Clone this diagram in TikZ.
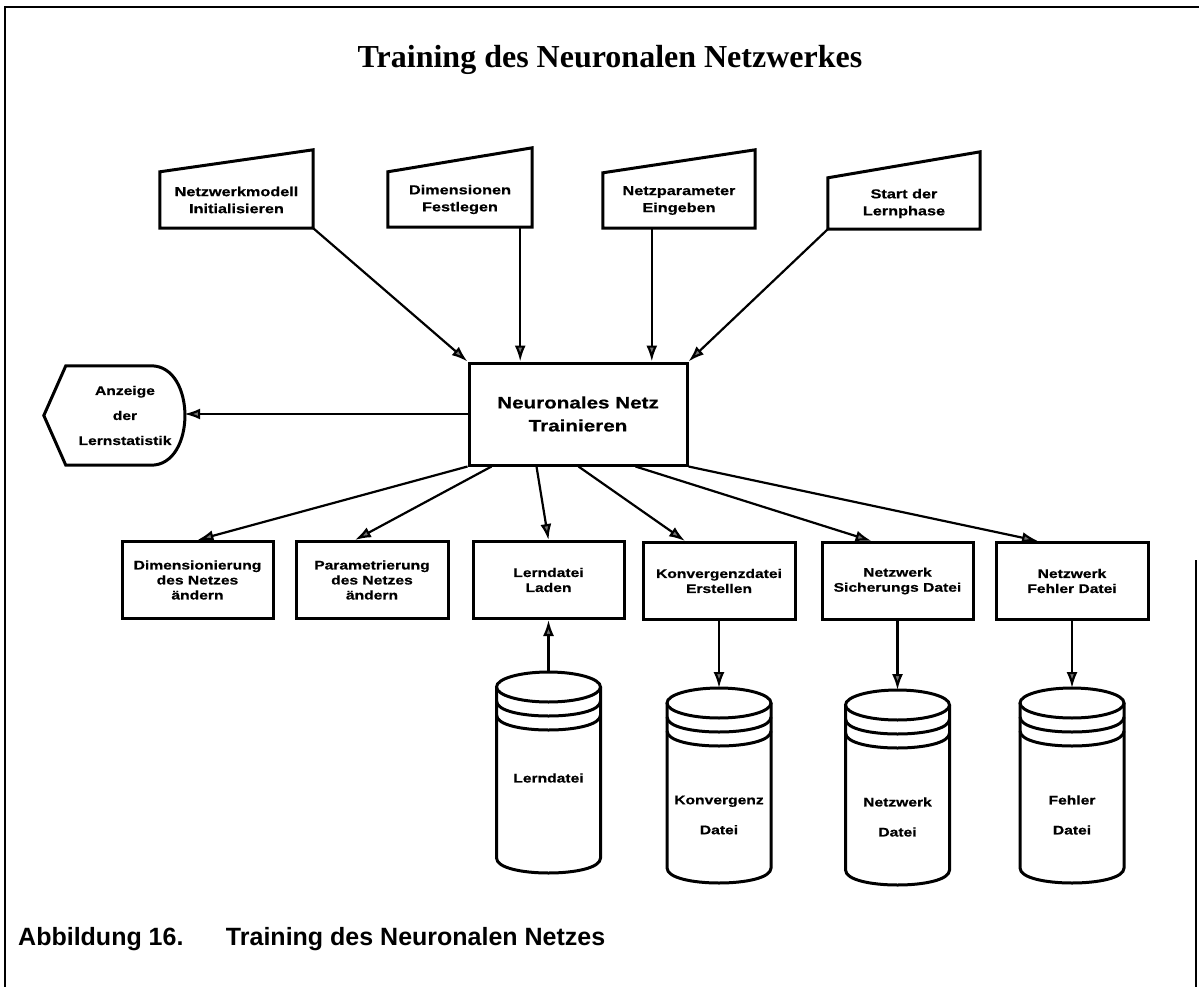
\documentclass[tikz,border=0pt]{standalone}
\usepackage{fontspec}
\setmainfont{Liberation Sans}
\newfontfamily\titlefont{Liberation Serif}
\newfontfamily\boxfont{Liberation Sans}[FakeStretch=1.25,FakeBold=0.6]
\usetikzlibrary{arrows.meta}
\tikzset{
  boxline/.style={line width=3pt, line join=miter},
  arr/.style={line width=2.2pt, -{Latex[length=16pt,width=11pt,fill=black!55]}},
  proc/.style={draw, boxline, align=center, inner sep=0pt,
    font=\boxfont\bfseries\fontsize{12.5}{15}\selectfont},
  inp/.style={align=center, inner sep=0pt,
    font=\boxfont\bfseries\fontsize{13}{17}\selectfont},
  cyltext/.style={align=center, inner sep=0pt,
    font=\boxfont\bfseries\fontsize{12.5}{30}\selectfont},
}
\begin{document}
\begin{tikzpicture}[x=1pt,y=-1pt]
\useasboundingbox (0,0) rectangle (1199,987);
% frame
\draw[line width=1.8pt] (5,987) -- (5,7) -- (1199,7);
\draw[line width=1.8pt] (1196,560) -- (1196,987);
% title and caption
\node[font=\titlefont\bfseries\fontsize{32}{38}\selectfont, anchor=base] (title) at (610,68) {Training des Neuronalen Netzwerkes};
\node[font=\bfseries\fontsize{25}{30}\selectfont, anchor=base west, inner sep=0pt] (cap) at (18,945) {Abbildung 16.\hspace{1.7em}Training des Neuronalen Netzes};
% input trapezoids
\node[inp, minimum width=153pt, minimum height=56pt] (t1) at (236.5,200) {Netzwerkmodell\\Initialisieren};
\draw[boxline] (t1.south west) -- (t1.south east) -- ([yshift=22pt]t1.north east) -- (t1.north west) -- cycle;
\node[inp, minimum width=144pt, minimum height=55pt] (t2) at (460,199.5) {Dimensionen\\Festlegen};
\draw[boxline] (t2.south west) -- (t2.south east) -- ([yshift=24pt]t2.north east) -- (t2.north west) -- cycle;
\node[inp, minimum width=152pt, minimum height=55pt] (t3) at (679,200.5) {Netzparameter\\Eingeben};
\draw[boxline] (t3.south west) -- (t3.south east) -- ([yshift=23pt]t3.north east) -- (t3.north west) -- cycle;
\node[inp, minimum width=152pt, minimum height=51pt] (t4) at (904,203.5) {Start der\\Lernphase};
\draw[boxline] (t4.south west) -- (t4.south east) -- ([yshift=26pt]t4.north east) -- (t4.north west) -- cycle;
% central process
\node[proc, minimum width=218pt, minimum height=102pt,
  font=\boxfont\bfseries\fontsize{16.5}{23}\selectfont] (nn) at (578,414) {Neuronales Netz\\Trainieren};
% display
\node[inp, minimum width=118pt, minimum height=99pt, font=\boxfont\bfseries\fontsize{12.5}{25}\selectfont] (disp) at (125,415.5) {Anzeige\\der\\Lernstatistik};
\draw[boxline] (disp.north west) -- ([xshift=-33pt]disp.north east)
  .. controls ([xshift=12pt]disp.north east) and ([xshift=12pt]disp.south east) .. ([xshift=-33pt]disp.south east)
  -- (disp.south west) -- ([xshift=-22pt]disp.west) -- cycle;
% bottom process boxes
\node[proc, minimum width=151pt, minimum height=77pt] (b1) at (197.5,580) {Dimensionierung\\des Netzes\\ändern};
\node[proc, minimum width=152pt, minimum height=77pt] (b2) at (372,580) {Parametrierung\\des Netzes\\ändern};
\node[proc, minimum width=151pt, minimum height=77pt] (b3) at (548.5,580) {Lerndatei\\Laden};
\node[proc, minimum width=152pt, minimum height=77pt] (b4) at (719,581) {Konvergenzdatei\\Erstellen};
\node[proc, minimum width=151pt, minimum height=77pt] (b5) at (897.5,581) {Netzwerk\\Sicherungs Datei};
\node[proc, minimum width=152pt, minimum height=77pt] (b6) at (1072,581) {Netzwerk\\Fehler Datei};
% cylinders
\begin{scope}[shift={(548.5,672)}]
  \coordinate (c1top) at (0,0);
  \draw[boxline] (0,15) ellipse [x radius=52pt, y radius=15pt];
  \draw[boxline] (-52,15) -- (-52,186) .. controls (-52,206) and (52,206) .. (52,186) -- (52,15);
  \draw[boxline] (-52,29) .. controls (-52,49) and (52,49) .. (52,29);
  \draw[boxline] (-52,43) .. controls (-52,63) and (52,63) .. (52,43);
  \node[cyltext] (c1) at (0,106) {Lerndatei};
\end{scope}
\begin{scope}[shift={(719,688)}]
  \coordinate (c2top) at (0,0);
  \draw[boxline] (0,15) ellipse [x radius=52pt, y radius=15pt];
  \draw[boxline] (-52,15) -- (-52,180) .. controls (-52,200) and (52,200) .. (52,180) -- (52,15);
  \draw[boxline] (-52,29) .. controls (-52,49) and (52,49) .. (52,29);
  \draw[boxline] (-52,43) .. controls (-52,63) and (52,63) .. (52,43);
  \node[cyltext] (c2) at (0,127) {Konvergenz\\Datei};
\end{scope}
\begin{scope}[shift={(897.5,690)}]
  \coordinate (c3top) at (0,0);
  \draw[boxline] (0,15) ellipse [x radius=52pt, y radius=15pt];
  \draw[boxline] (-52,15) -- (-52,180) .. controls (-52,200) and (52,200) .. (52,180) -- (52,15);
  \draw[boxline] (-52,29) .. controls (-52,49) and (52,49) .. (52,29);
  \draw[boxline] (-52,43) .. controls (-52,63) and (52,63) .. (52,43);
  \node[cyltext] (c3) at (0,127) {Netzwerk\\Datei};
\end{scope}
\begin{scope}[shift={(1072,688)}]
  \coordinate (c4top) at (0,0);
  \draw[boxline] (0,15) ellipse [x radius=52pt, y radius=15pt];
  \draw[boxline] (-52,15) -- (-52,180) .. controls (-52,200) and (52,200) .. (52,180) -- (52,15);
  \draw[boxline] (-52,29) .. controls (-52,49) and (52,49) .. (52,29);
  \draw[boxline] (-52,43) .. controls (-52,63) and (52,63) .. (52,43);
  \node[cyltext] (c4) at (0,127) {Fehler\\Datei};
\end{scope}
% connectors: inputs to central box
\draw[arr] (t1.south east) -- (nn.north west);
\draw[arr] ([xshift=-12pt]t2.south east) -- ([xshift=-12pt]t2.south east |- nn.north);
\draw[arr] ([xshift=49pt]t3.south west) -- ([xshift=49pt]t3.south west |- nn.north);
\draw[arr] (t4.south west) -- (nn.north east);
% central to display
\draw[arr] (nn.west) -- (nn.west -| disp.east);
% central to bottom boxes
\draw[arr] (nn.south west) -- (b1.north);
\draw[arr] ([xshift=24pt]nn.south west) -- ([xshift=-17pt]b2.north);
\draw[arr] ([xshift=69pt]nn.south west) -- (b3.north);
\draw[arr] ([xshift=111pt]nn.south west) -- ([xshift=-34pt]b4.north);
\draw[arr] ([xshift=168pt]nn.south west) -- ([xshift=-26pt]b5.north);
\draw[arr] (nn.south east) -- ([xshift=-34pt]b6.north);
% files
\draw[arr] (c1top) -- (b3.south);
\draw[arr] (b4.south) -- (c2top);
\draw[arr] (b5.south) -- (c3top);
\draw[arr] (b6.south) -- (c4top);
\end{tikzpicture}
\end{document}
